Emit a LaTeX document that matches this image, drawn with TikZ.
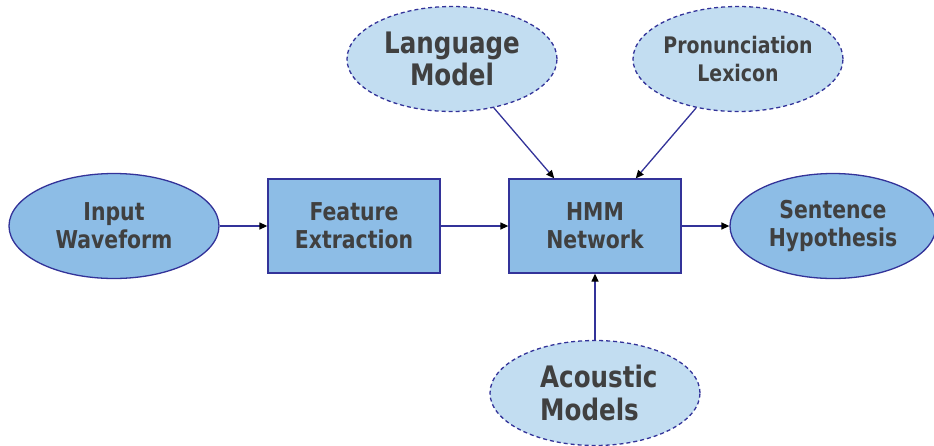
\documentclass[tikz,border=0pt]{standalone}
\usepackage{fontspec}
\newfontfamily\diagfont{DejaVu Sans}[FakeStretch=0.83]
\usetikzlibrary{shapes.geometric,arrows.meta}
\definecolor{txtgray}{HTML}{404040}
\definecolor{mainfill}{HTML}{8DBDE6}
\definecolor{lightfill}{HTML}{C2DDF1}
\definecolor{edgeblue}{HTML}{333399}
\tikzset{
  solidell/.style={ellipse, draw=edgeblue, line width=1.3pt, fill=mainfill, minimum width=210pt, minimum height=105pt, inner sep=0pt},
  dashell/.style={ellipse, draw=edgeblue, line width=1.3pt, dash pattern=on 4pt off 3pt, fill=lightfill, minimum width=210pt, minimum height=105pt, inner sep=0pt},
  procbox/.style={rectangle, draw=edgeblue, line width=1.3pt, fill=mainfill, minimum width=172pt, minimum height=94pt, inner sep=0pt},
  lbl/.style={align=center, text=txtgray, inner sep=0pt, font={\diagfont\bfseries\fontsize{24.6}{28}\selectfont}},
  lblbig/.style={align=center, text=txtgray, inner sep=0pt, font={\diagfont\bfseries\fontsize{29.6}{32.5}\selectfont}},
  lblsmall/.style={align=center, text=txtgray, inner sep=0pt, font={\diagfont\bfseries\fontsize{22.8}{28}\selectfont}},
  conn/.style={draw=edgeblue, line width=1.3pt, -{Triangle[length=8pt,width=7pt,color=black]}}
}
\begin{document}
\begin{tikzpicture}[x=1pt,y=-1pt]
\useasboundingbox (0,0) rectangle (934,445);
\node[solidell] (input) at (114,226) {};
\node[procbox] (feat) at (354,226) {};
\node[procbox] (hmm) at (595,226) {};
\node[solidell, minimum width=206pt] (sent) at (833,226) {};
\node[dashell] (lm) at (452,59) {};
\node[dashell] (pl) at (738,59) {};
\node[dashell] (am) at (595,393) {};

\node[lbl] (tinput) at (input.center) {Input\\Waveform};
\node[lbl] (tfeat) at (feat.center) {Feature\\Extraction};
\node[lbl] (thmm) at (hmm.center) {HMM\\Network};
\node[lbl] (tsent) at (sent.center) {Sentence\\Hypothesis};
\node[lblbig] (tlm) at (lm.center) {Language\\Model};
\node[lblsmall] (tpl) at (pl.center) {Pronunciation\\Lexicon};
\node[lblbig, align=left, anchor=west] (tam) at (540,393) {Acoustic\\Models};

\draw[conn] (input) -- (feat);
\draw[conn] (feat) -- (hmm);
\draw[conn] (hmm) -- (sent);
\draw[conn] (lm) -- (hmm);
\draw[conn] (pl) -- (hmm);
\draw[conn] (am) -- (hmm);
\end{tikzpicture}
\end{document}
